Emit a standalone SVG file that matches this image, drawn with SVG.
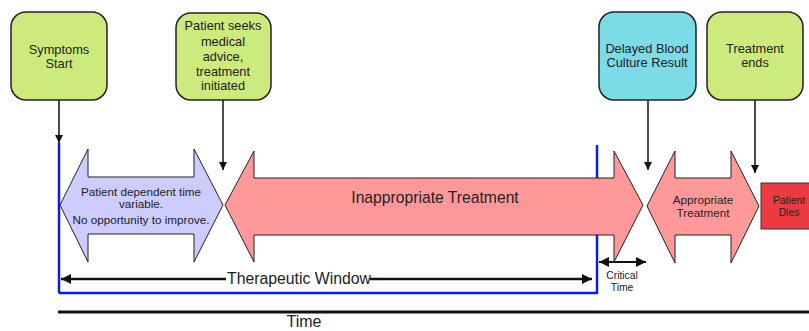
<svg xmlns="http://www.w3.org/2000/svg" width="809" height="331" viewBox="0 0 809 331">
<style>
text{font-family:"Liberation Sans",Arial,sans-serif;fill:#222;text-anchor:middle}
.box{stroke:#222;stroke-width:1.5}
.green{fill:#CDEA7C}
.cyan{fill:#7BDCE8}
.conn{stroke:#111;stroke-width:1.5;fill:none}
.blue{stroke:#0A1AF0;stroke-width:2.5;fill:none}
.arr{stroke:#222;stroke-width:1}
.bt{font-size:12.8px}
.t11{font-size:11.7px}
.t9{font-size:10.3px}
</style>
<defs>
<marker id="ah" viewBox="0 0 10 10" refX="10" refY="5" markerWidth="8" markerHeight="8" markerUnits="userSpaceOnUse" orient="auto"><path d="M0,0L10,5L0,10z" fill="#111"/></marker>
<marker id="ahb" viewBox="0 0 10 10" refX="10" refY="5" markerWidth="10" markerHeight="10" markerUnits="userSpaceOnUse" orient="auto-start-reverse"><path d="M0,0L10,5L0,10z" fill="#111"/></marker>
</defs>
<rect width="809" height="331" fill="#fff"/>
<g id="connectors">
<line class="blue" x1="59" y1="143" x2="59" y2="293"/>
<line class="blue" x1="59" y1="293" x2="597" y2="293"/>
<line class="blue" x1="597" y1="145" x2="597" y2="294"/>
<line class="conn" x1="59" y1="100" x2="59" y2="143" marker-end="url(#ah)"/>
<line class="conn" x1="223" y1="100" x2="223" y2="170" marker-end="url(#ah)"/>
<line class="conn" x1="648" y1="100" x2="648" y2="170" marker-end="url(#ah)"/>
<line class="conn" x1="755" y1="100" x2="755" y2="173" marker-end="url(#ah)"/>
<line stroke="#111" stroke-width="2.5" x1="61" y1="279" x2="226" y2="279" marker-start="url(#ahb)"/>
<line stroke="#111" stroke-width="2.5" x1="370" y1="279" x2="592" y2="279" marker-end="url(#ahb)"/>
<line stroke="#111" stroke-width="2" x1="599" y1="262" x2="646" y2="262" marker-start="url(#ahb)" marker-end="url(#ahb)"/>
<line stroke="#111" stroke-width="3" x1="58" y1="312" x2="809" y2="312"/>
</g>
<g id="symptoms-start">
<rect class="box green" x="11" y="12" width="96" height="88" rx="15"/>
<text class="bt" x="59" y="54">Symptoms</text>
<text class="bt" x="59" y="68">Start</text>
</g>
<g id="patient-seeks">
<rect class="box green" x="176" y="13" width="95" height="87" rx="15"/>
<text class="bt" x="223" y="30">Patient seeks</text>
<text class="bt" x="223" y="46">medical</text>
<text class="bt" x="223" y="61">advice,</text>
<text class="bt" x="223" y="76">treatment</text>
<text class="bt" x="223" y="90">initiated</text>
</g>
<g id="delayed-blood">
<rect class="box cyan" x="599" y="12" width="97" height="88" rx="15"/>
<text class="bt" x="647" y="53">Delayed Blood</text>
<text class="bt" x="647" y="67">Culture Result</text>
</g>
<g id="treatment-ends">
<rect class="box green" x="707" y="12" width="96" height="88" rx="15"/>
<text class="bt" x="755" y="53">Treatment</text>
<text class="bt" x="755" y="67">ends</text>
</g>
<g id="patient-dependent">
<polygon class="arr" fill="#CCCCFF" points="60,205 88,149 88,177 194,177 194,149 223,205 194,262 194,234 88,234 88,262"/>
<text class="t11" x="141" y="196">Patient dependent time</text>
<text class="t11" x="141" y="208">variable.</text>
<text class="t11" x="141" y="224">No opportunity to improve.</text>
</g>
<g id="inappropriate">
<polygon class="arr" fill="#FF9999" points="225,205 254,151 254,178 614,178 614,151 643,205 614,262 614,235 254,235 254,262"/>
<text x="435" y="203" font-size="15.7">Inappropriate Treatment</text>
</g>
<g id="appropriate">
<polygon class="arr" fill="#FF9999" points="647,206 675,151 675,178 731,178 731,151 759,206 731,263 731,235 675,235 675,263"/>
<text class="t11" x="703" y="204">Appropriate</text>
<text class="t11" x="703" y="217">Treatment</text>
</g>
<g id="patient-dies">
<rect x="761" y="183" width="50" height="46" fill="#EC3A40" stroke="#333" stroke-width="1"/>
<text class="t9" x="789" y="204">Patient</text>
<text class="t9" x="789" y="216">Dies</text>
</g>
<g id="labels">
<text x="299" y="284" font-size="15.8">Therapeutic Window</text>
<text class="t9" x="622" y="279">Critical</text>
<text class="t9" x="622" y="291">Time</text>
<text x="304" y="327" font-size="16">Time</text>
</g>
</svg>
